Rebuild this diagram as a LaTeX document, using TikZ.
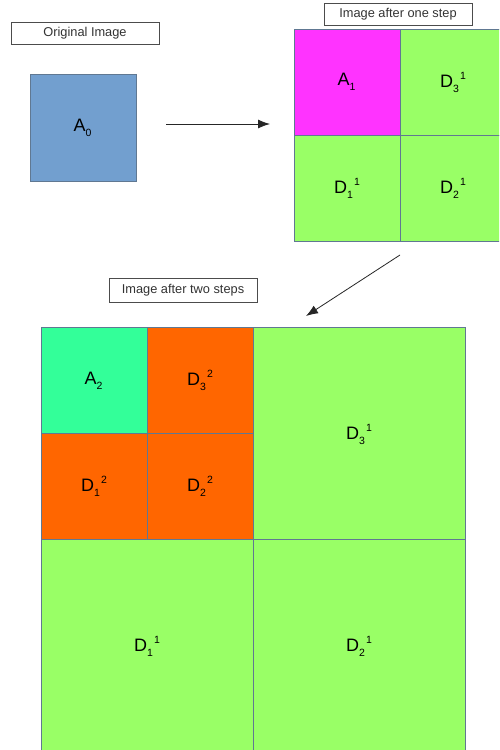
\documentclass[tikz,border=0pt]{standalone}
\usepackage{fontspec}
\setmainfont{Liberation Sans}
\usetikzlibrary{positioning,arrows.meta}
\definecolor{imgblue}{RGB}{114,159,207}
\definecolor{imgmagenta}{RGB}{255,51,255}
\definecolor{imggreen}{RGB}{153,255,102}
\definecolor{imgteal}{RGB}{51,255,153}
\definecolor{imgorange}{RGB}{255,102,0}
\definecolor{imgedge}{RGB}{96,120,146}
\definecolor{imgline}{gray}{0.3}
\newcommand\blockname[3]{#1{\fontsize{10.5}{10}\selectfont\raisebox{-5pt}{#2}\kern1pt\raisebox{8pt}{#3}}}

\begin{document}
\begin{tikzpicture}[x=1pt,y=-1pt,>={Latex[length=12pt,width=9pt]},node distance=0pt,
  title/.style={draw=imgline,line width=0.8pt,minimum width=148pt,minimum height=22pt,
                inner sep=0pt,font=\fontsize{12.8}{14}\selectfont,text=black!80},
  cell/.style={draw=imgedge,line width=1pt,minimum width=106pt,minimum height=106pt,
               inner sep=0pt,outer sep=0pt,font=\fontsize{18}{20}\selectfont},
  big/.style={cell,fill=imggreen,minimum width=212pt,minimum height=213pt},
  arr/.style={->,draw=black!85,line width=0.8pt}]
\clip (0,0) rectangle (499,750);
\fill[white] (0,0) rectangle (499,750);
% original image
\node[title] (t0) at (85,33) {Original Image};
\node[cell,fill=imgblue,minimum height=107pt] (a0) at (83,127.5) {\blockname{A}{0}{}};
% after one step
\node[title] (t1) at (398,14) {Image after one step};
\node[cell,fill=imgmagenta] (a1) at (347,82) {\blockname{A}{1}{}};
\node[cell,fill=imggreen,right=of a1] (d31) {\blockname{D}{3}{1}};
\node[cell,fill=imggreen,below=of a1] (d11) {\blockname{D}{1}{1}};
\node[cell,fill=imggreen,right=of d11] (d21) {\blockname{D}{2}{1}};
\draw[arr,shorten <=30pt,shorten >=24pt] ([yshift=3.5pt]a0.east) -- ([yshift=3.5pt]a0.east -| a1.west);
% after two steps
\node[title,minimum height=24pt] (t2) at (183,290) {Image after two steps};
\node[cell,fill=imgteal] (a2) at (94,380.5) {\blockname{A}{2}{}};
\node[cell,fill=imgorange,right=of a2] (d32) {\blockname{D}{3}{2}};
\node[cell,fill=imgorange,below=of a2] (d12) {\blockname{D}{1}{2}};
\node[cell,fill=imgorange,right=of d12] (d22) {\blockname{D}{2}{2}};
\node[big,anchor=north west] (bd31) at (d32.north east) {\blockname{D}{3}{1}};
\node[big,anchor=north west] (bd11) at (d12.south west) {\blockname{D}{1}{1}};
\node[big,right=of bd11] (bd21) {\blockname{D}{2}{1}};
\coordinate (out1) at (400,255);
\coordinate (in2) at (306,316);
\draw[arr] (out1) -- (in2);
\end{tikzpicture}
\end{document}
